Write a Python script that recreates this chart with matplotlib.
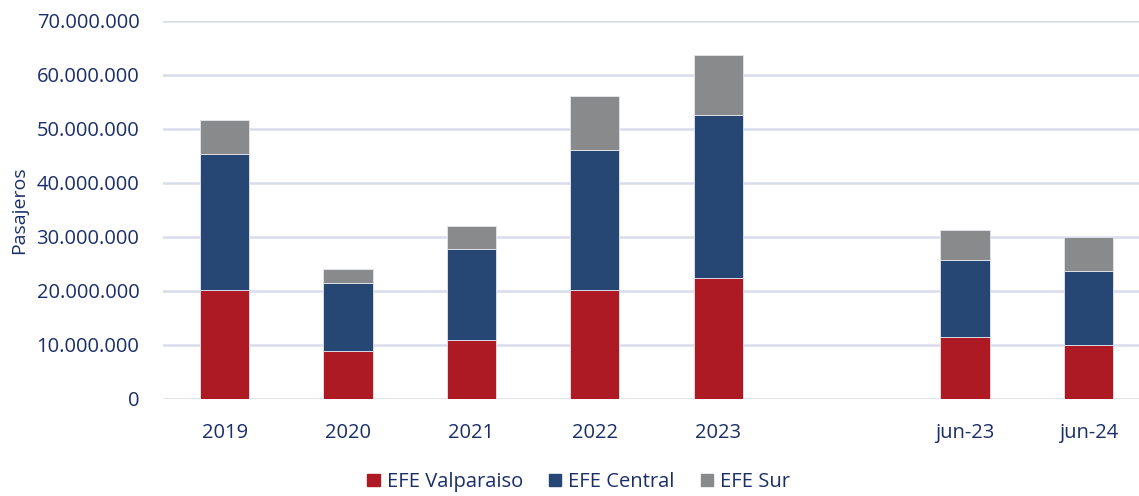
import matplotlib
matplotlib.use("Agg")
import matplotlib.pyplot as plt
from matplotlib.ticker import FuncFormatter, MultipleLocator
from matplotlib.patches import Patch

categories = ["2019", "2020", "2021", "2022", "2023", "", "jun-23", "jun-24"]
valparaiso = [20.1e6, 8.8e6, 10.9e6, 20.1e6, 22.35e6, 0, 11.4e6, 9.9e6]
central_top = [45.4e6, 21.4e6, 27.8e6, 46.0e6, 52.5e6, 0, 25.8e6, 23.7e6]
total_top = [51.7e6, 24.1e6, 32.0e6, 56.0e6, 63.7e6, 0, 31.3e6, 29.9e6]
central = [c - v for c, v in zip(central_top, valparaiso)]
sur = [t - c for t, c in zip(total_top, central_top)]
series_names = ["EFE Valparaiso", "EFE Central", "EFE Sur"]
colors = ["#AD1A24", "#264773", "#898A8C"]
text_color = "#1A2E68"

plt.rcParams['font.family'] = ['Open Sans', 'DejaVu Sans']

fig = plt.figure(figsize=(11.39, 4.96), dpi=100)
ax = fig.add_axes([163/1139, 1-399/496, 987/1139, (399-20.7)/496])

x = list(range(len(categories)))
idx = [i for i, c in enumerate(categories) if c]
xs = [x[i] for i in idx]
bottom = [0]*len(idx)
for vals, col, name in zip([valparaiso, central, sur], colors, series_names):
    v = [vals[i] for i in idx]
    ax.bar(xs, v, 0.4, bottom=bottom, color=col, edgecolor="#E6E6EE", linewidth=0.6, zorder=3, label=name)
    bottom = [b + vv for b, vv in zip(bottom, v)]

ax.set_xlim(-0.5, len(categories)-0.5)
ax.set_ylim(0, 70e6)
ax.yaxis.set_major_locator(MultipleLocator(10e6))
ax.yaxis.set_major_formatter(FuncFormatter(lambda v, p: f"{int(round(v)):,}".replace(",", ".")))
ax.set_xticks(xs)
ax.set_xticklabels([categories[i] for i in idx])
ax.grid(axis='y', color="#D9DCEB", linewidth=1.8, zorder=0)
for s in ax.spines.values():
    s.set_visible(False)
ax.tick_params(axis='both', length=0, labelsize=14.5, colors=text_color)
ax.tick_params(axis='x', pad=17)
ax.tick_params(axis='y', pad=17)
ax.set_ylabel("Pasajeros", fontsize=14, color=text_color)
ax.yaxis.set_label_coords(-0.137, 0.5)

handles = [Patch(color=c, label=n) for c, n in zip(colors, series_names)]
fig.legend(handles=handles, loc='center', bbox_to_anchor=(0.508, 1-482/496), ncol=3,
           frameon=False, fontsize=14.5, labelcolor=text_color, handlelength=0.6,
           handleheight=0.6, handletextpad=0.35, columnspacing=1.3)

fig.savefig("out.png", dpi=100)
